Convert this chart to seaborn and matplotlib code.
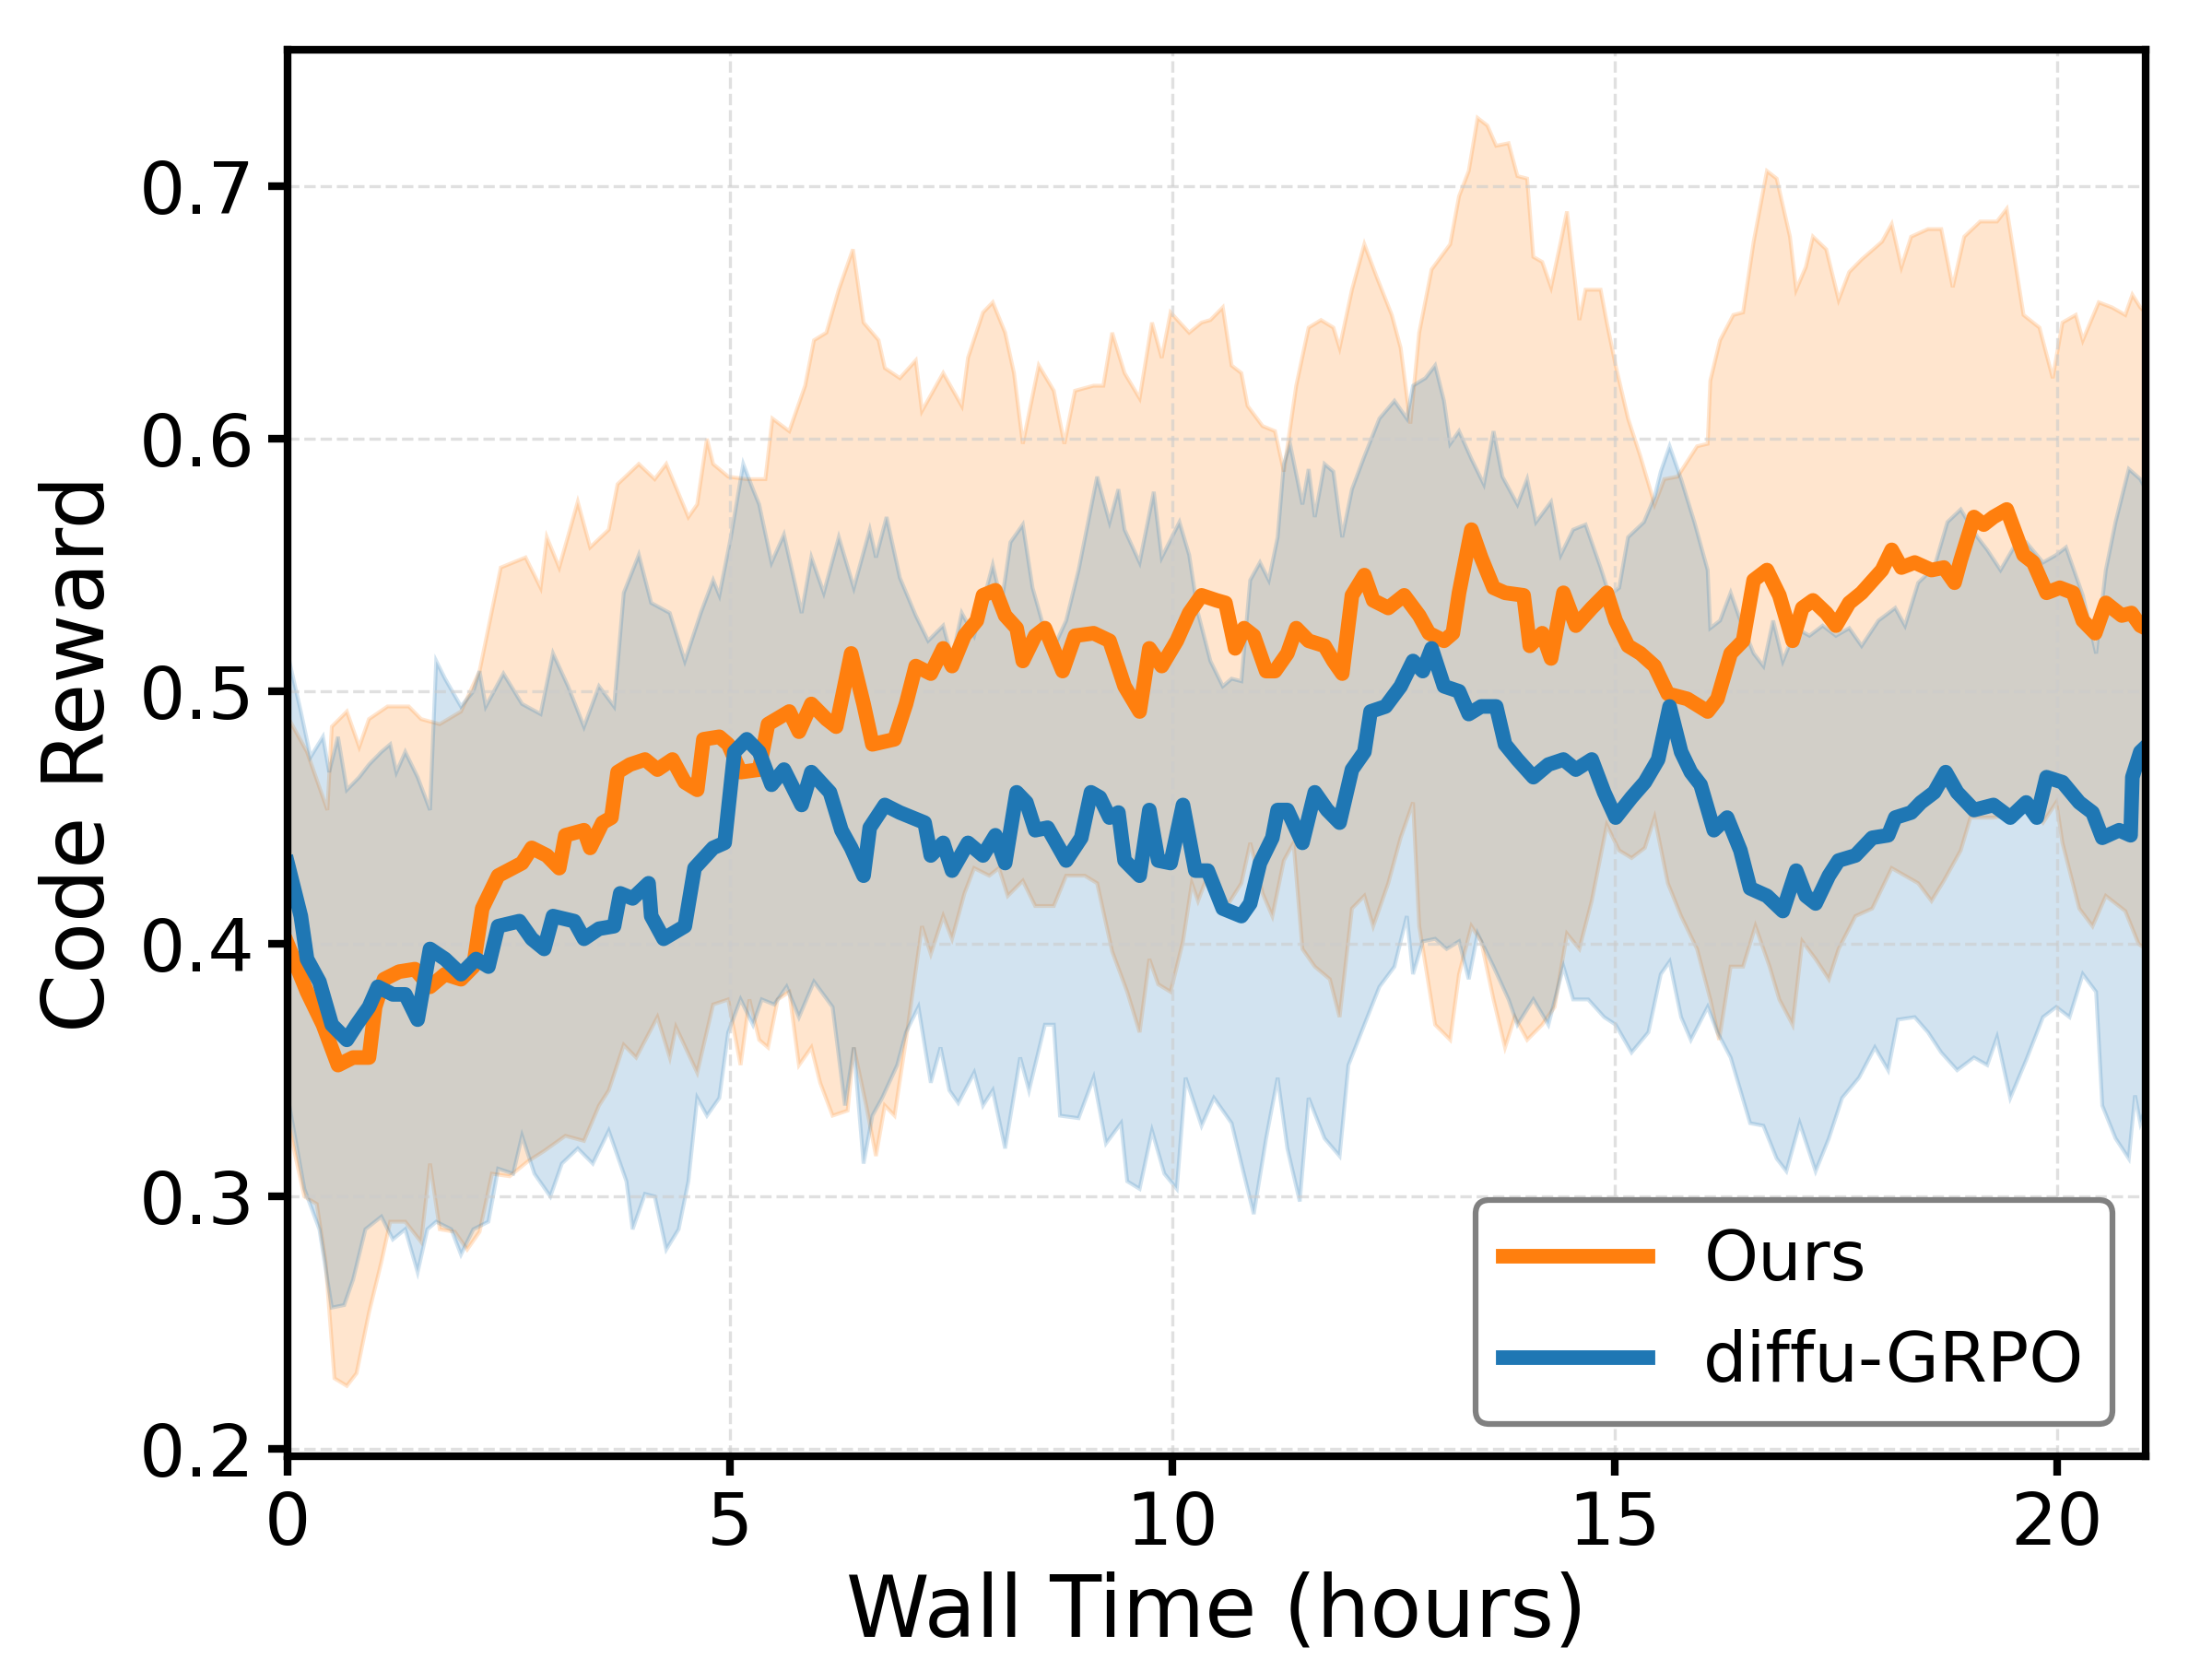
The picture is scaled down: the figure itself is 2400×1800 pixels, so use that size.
import numpy as np
import seaborn as sns
import matplotlib.pyplot as plt

# values (hours, reward)
ours_t = [0.0, 0.22, 0.40, 0.57, 0.74, 0.92, 0.99, 1.09, 1.26, 1.44, 1.61, 1.78, 1.96, 2.10, 2.20, 2.38, 2.65, 2.76, 2.93, 3.07, 3.14, 3.35, 3.42, 3.56, 3.66, 3.73, 3.87, 4.04, 4.18, 4.35, 4.49, 4.63, 4.70, 4.88, 4.98,
          5.12, 5.33, 5.43, 5.67, 5.78, 5.92, 6.09, 6.20, 6.37, 6.51, 6.61, 6.86, 6.99, 7.10, 7.27, 7.41, 7.51, 7.65, 7.79, 7.86, 8.00, 8.11, 8.24, 8.31, 8.45, 8.56, 8.76, 8.90, 9.11, 9.29, 9.46, 9.63, 9.74, 9.88, 10.05, 10.19,
          10.33, 10.50, 10.60, 10.71, 10.81, 10.92, 11.06, 11.16, 11.30, 11.40, 11.54, 11.72, 11.82, 11.92, 12.03, 12.17, 12.27, 12.44, 12.62, 12.79, 12.90, 13.07, 13.17, 13.24, 13.38, 13.49, 13.63, 13.76, 13.97, 14.04, 14.18, 14.28, 14.42, 14.56, 14.74, 14.91, 15.01, 15.15, 15.29,
          15.45, 15.60, 15.82, 16.05, 16.16, 16.31, 16.45, 16.57, 16.72, 16.86, 17.01, 17.12, 17.24, 17.39, 17.50, 17.65, 17.79, 18.02, 18.13, 18.24, 18.39, 18.58, 18.72, 18.84, 18.91, 19.06, 19.17, 19.28, 19.43, 19.62, 19.73, 19.88, 20.03, 20.18, 20.29, 20.43, 20.55, 20.73, 20.84, 20.94, 21.0]
ours_mean = [0.400, 0.381, 0.368, 0.352, 0.355, 0.355, 0.375, 0.386, 0.389, 0.390, 0.383, 0.388, 0.386, 0.391, 0.414, 0.427, 0.432, 0.438, 0.435, 0.430, 0.443, 0.445, 0.438, 0.448, 0.450, 0.468, 0.471, 0.473, 0.469, 0.473, 0.464, 0.461, 0.481, 0.482, 0.479,
             0.468, 0.469, 0.487, 0.492, 0.484, 0.495, 0.489, 0.486, 0.515, 0.495, 0.479, 0.481, 0.495, 0.510, 0.507, 0.517, 0.510, 0.522, 0.528, 0.538, 0.540, 0.530, 0.525, 0.512, 0.522, 0.525, 0.508, 0.522, 0.523, 0.520, 0.502, 0.492, 0.517, 0.510, 0.520, 0.531,
             0.538, 0.536, 0.535, 0.517, 0.525, 0.522, 0.508, 0.508, 0.515, 0.525, 0.520, 0.518, 0.512, 0.507, 0.538, 0.546, 0.536, 0.533, 0.538, 0.530, 0.523, 0.520, 0.523, 0.539, 0.564, 0.553, 0.541, 0.539, 0.538, 0.518, 0.523, 0.513, 0.539, 0.526, 0.533, 0.539, 0.528, 0.518, 0.515,
             0.510, 0.499, 0.497, 0.492, 0.497, 0.515, 0.520, 0.544, 0.548, 0.538, 0.520, 0.533, 0.536, 0.531, 0.526, 0.535, 0.539, 0.548, 0.556, 0.549, 0.551, 0.548, 0.549, 0.543, 0.552, 0.569, 0.566, 0.569, 0.572, 0.554, 0.551, 0.539, 0.541, 0.539, 0.528, 0.523, 0.535, 0.530, 0.531, 0.526, 0.525]

ours_up_t = [0.0, 0.22, 0.45, 0.50, 0.67, 0.81, 0.92, 1.13, 1.37, 1.51, 1.72, 1.96, 2.17, 2.41, 2.69, 2.86, 2.93, 3.07, 3.28, 3.42, 3.63, 3.73, 3.97, 4.15, 4.28, 4.53, 4.63, 4.74, 4.81, 4.98,
             5.19, 5.40, 5.48, 5.67, 5.85, 5.95, 6.09, 6.23, 6.39, 6.51, 6.68, 6.75, 6.92, 7.10, 7.17, 7.41, 7.62, 7.69, 7.86, 7.97, 8.11, 8.21, 8.31, 8.49, 8.66, 8.78, 8.90, 9.11, 9.22, 9.32, 9.46, 9.63, 9.77, 9.88, 9.98, 10.19,
             10.33, 10.43, 10.57, 10.67, 10.78, 10.85, 11.02, 11.16, 11.26, 11.40, 11.54, 11.68, 11.82, 11.89, 12.03, 12.17, 12.31, 12.48, 12.58, 12.69, 12.79, 12.93, 13.14, 13.24, 13.35, 13.45, 13.56, 13.66, 13.80, 13.90, 14.01, 14.08, 14.18, 14.28, 14.39, 14.46, 14.60, 14.67, 14.84, 14.91, 15.01, 15.15, 15.29,
             15.45, 15.56, 15.71, 15.93, 16.05, 16.08, 16.19, 16.34, 16.45, 16.57, 16.72, 16.83, 16.98, 17.05, 17.16, 17.24, 17.39, 17.53, 17.65, 17.79, 18.02, 18.13, 18.24, 18.35, 18.54, 18.69, 18.82, 18.95, 19.13, 19.32, 19.43, 19.62, 19.80, 19.95, 20.06, 20.21, 20.29, 20.47, 20.62, 20.77, 20.85, 20.94, 21.0]
ours_up = [0.490, 0.476, 0.453, 0.486, 0.492, 0.478, 0.489, 0.494, 0.494, 0.489, 0.487, 0.492, 0.508, 0.549, 0.553, 0.541, 0.561, 0.549, 0.575, 0.557, 0.564, 0.582, 0.590, 0.584, 0.590, 0.569, 0.574, 0.600, 0.590, 0.585,
           0.584, 0.584, 0.608, 0.603, 0.621, 0.639, 0.642, 0.659, 0.675, 0.646, 0.639, 0.628, 0.624, 0.631, 0.611, 0.626, 0.613, 0.632, 0.650, 0.654, 0.642, 0.626, 0.598, 0.629, 0.619, 0.598, 0.619, 0.621, 0.621, 0.642, 0.626, 0.616, 0.646, 0.632, 0.650, 0.642,
           0.646, 0.647, 0.652, 0.629, 0.626, 0.613, 0.605, 0.603, 0.587, 0.621, 0.644, 0.647, 0.644, 0.636, 0.659, 0.677, 0.664, 0.649, 0.636, 0.606, 0.642, 0.667, 0.677, 0.696, 0.706, 0.727, 0.724, 0.716, 0.717, 0.704, 0.703, 0.672, 0.670, 0.660, 0.678, 0.690, 0.647, 0.659, 0.659, 0.646, 0.629, 0.608, 0.593,
           0.574, 0.584, 0.585, 0.597, 0.598, 0.623, 0.639, 0.649, 0.650, 0.678, 0.706, 0.703, 0.680, 0.659, 0.668, 0.680, 0.675, 0.655, 0.666, 0.671, 0.678, 0.685, 0.668, 0.680, 0.683, 0.683, 0.660, 0.680, 0.686, 0.686, 0.691, 0.649, 0.644, 0.624, 0.646, 0.649, 0.639, 0.654, 0.652, 0.649, 0.657, 0.652, 0.650]

ours_lo_t = [0.0, 0.19, 0.33, 0.43, 0.53, 0.67, 0.78, 0.92, 1.06, 1.16, 1.33, 1.51, 1.61, 1.72, 1.89, 2.03, 2.17, 2.31, 2.51, 2.72, 2.90, 3.14, 3.35, 3.52, 3.63, 3.80, 3.94, 4.18, 4.32, 4.39, 4.63, 4.81, 4.98,
             5.12, 5.22, 5.33, 5.43, 5.54, 5.67, 5.78, 5.92, 6.02, 6.16, 6.33, 6.40, 6.54, 6.65, 6.75, 6.86, 6.99, 7.17, 7.27, 7.41, 7.51, 7.65, 7.76, 7.93, 8.04, 8.14, 8.31, 8.45, 8.66, 8.80, 9.01, 9.15, 9.32, 9.49, 9.63, 9.74, 9.84, 9.98, 10.12, 10.22,
             10.29, 10.43, 10.60, 10.78, 10.88, 11.02, 11.13, 11.26, 11.37, 11.47, 11.61, 11.78, 11.89, 12.03, 12.17, 12.27, 12.44, 12.58, 12.72, 12.79, 12.97, 13.14, 13.24, 13.38, 13.49, 13.63, 13.76, 13.87, 14.01, 14.18, 14.32, 14.46, 14.60, 14.74, 14.91, 15.05, 15.19,
             15.34, 15.45, 15.60, 15.75, 15.93, 16.08, 16.18, 16.31, 16.45, 16.59, 16.75, 16.86, 17.01, 17.12, 17.27, 17.42, 17.53, 17.72, 17.91, 18.13, 18.28, 18.43, 18.58, 18.72, 18.91, 19.02, 19.28, 19.47, 19.65, 19.84, 19.99, 20.06, 20.25, 20.40, 20.55, 20.77, 20.92, 21.0]
ours_lo = [0.330, 0.300, 0.297, 0.274, 0.228, 0.225, 0.230, 0.254, 0.274, 0.290, 0.290, 0.282, 0.313, 0.287, 0.286, 0.279, 0.286, 0.309, 0.308, 0.314, 0.318, 0.324, 0.322, 0.336, 0.342, 0.360, 0.355, 0.371, 0.355, 0.367, 0.349, 0.376, 0.378,
           0.352, 0.378, 0.362, 0.359, 0.378, 0.381, 0.352, 0.359, 0.345, 0.332, 0.334, 0.359, 0.336, 0.316, 0.336, 0.332, 0.362, 0.407, 0.396, 0.411, 0.402, 0.420, 0.430, 0.427, 0.430, 0.419, 0.425, 0.415, 0.415, 0.427, 0.427, 0.424, 0.397, 0.381, 0.365, 0.394, 0.384, 0.381, 0.401, 0.424,
           0.417, 0.430, 0.414, 0.424, 0.440, 0.420, 0.411, 0.433, 0.440, 0.398, 0.391, 0.386, 0.371, 0.414, 0.419, 0.407, 0.424, 0.442, 0.456, 0.407, 0.368, 0.362, 0.388, 0.407, 0.401, 0.378, 0.359, 0.371, 0.362, 0.368, 0.375, 0.404, 0.398, 0.417, 0.447, 0.437, 0.434,
           0.438, 0.450, 0.424, 0.411, 0.398, 0.378, 0.362, 0.391, 0.391, 0.407, 0.391, 0.378, 0.368, 0.401, 0.394, 0.386, 0.398, 0.411, 0.414, 0.430, 0.427, 0.424, 0.417, 0.425, 0.437, 0.450, 0.450, 0.451, 0.456, 0.448, 0.456, 0.440, 0.414, 0.407, 0.419, 0.413, 0.400, 0.398]

grpo_t = [0.0, 0.15, 0.22, 0.36, 0.50, 0.67, 0.78, 0.92, 1.02, 1.19, 1.33, 1.47, 1.61, 1.78, 1.96, 2.13, 2.27, 2.38, 2.62, 2.76, 2.90, 3.00, 3.24, 3.35, 3.52, 3.69, 3.76, 3.90, 4.08, 4.11, 4.25, 4.49, 4.60, 4.81, 4.94,
          5.05, 5.19, 5.33, 5.47, 5.61, 5.81, 5.92, 6.13, 6.26, 6.37, 6.51, 6.58, 6.75, 6.92, 7.20, 7.27, 7.41, 7.51, 7.69, 7.86, 8.00, 8.11, 8.24, 8.35, 8.45, 8.59, 8.80, 8.97, 9.08, 9.18, 9.29, 9.39, 9.46, 9.63, 9.74, 9.84, 9.98, 10.12,
          10.26, 10.40, 10.57, 10.78, 10.88, 10.99, 11.13, 11.19, 11.30, 11.47, 11.61, 11.75, 11.89, 12.03, 12.17, 12.24, 12.41, 12.58, 12.72, 12.83, 12.93, 13.07, 13.24, 13.35, 13.49, 13.66, 13.76, 13.90, 14.08, 14.25, 14.42, 14.56, 14.74, 14.88, 15.01,
          15.19, 15.34, 15.49, 15.62, 15.75, 15.86, 15.97, 16.12, 16.27, 16.42, 16.53, 16.72, 16.90, 17.05, 17.16, 17.27, 17.42, 17.53, 17.72, 17.91, 18.09, 18.17, 18.35, 18.46, 18.61, 18.74, 18.87, 19.06, 19.28, 19.47, 19.65, 19.77, 19.88, 20.06, 20.25, 20.40, 20.51, 20.70, 20.83, 20.85, 20.94, 21.0]
grpo_mean = [0.432, 0.411, 0.394, 0.385, 0.368, 0.362, 0.368, 0.375, 0.383, 0.380, 0.380, 0.370, 0.398, 0.394, 0.388, 0.394, 0.391, 0.407, 0.409, 0.402, 0.398, 0.411, 0.409, 0.402, 0.406, 0.407, 0.420, 0.418, 0.424, 0.411, 0.402, 0.407, 0.430, 0.438, 0.440,
             0.476, 0.481, 0.476, 0.463, 0.469, 0.455, 0.468, 0.460, 0.445, 0.438, 0.427, 0.446, 0.455, 0.452, 0.448, 0.435, 0.440, 0.429, 0.440, 0.435, 0.443, 0.432, 0.460, 0.456, 0.445, 0.446, 0.433, 0.442, 0.460, 0.458, 0.450, 0.452, 0.433, 0.427, 0.453, 0.433, 0.432, 0.455,
             0.429, 0.429, 0.414, 0.411, 0.416, 0.432, 0.442, 0.453, 0.453, 0.440, 0.460, 0.453, 0.448, 0.469, 0.476, 0.492, 0.494, 0.502, 0.512, 0.508, 0.517, 0.502, 0.500, 0.491, 0.494, 0.494, 0.479, 0.473, 0.466, 0.471, 0.473, 0.469, 0.473, 0.460, 0.450,
             0.458, 0.464, 0.473, 0.494, 0.476, 0.468, 0.463, 0.445, 0.450, 0.437, 0.422, 0.419, 0.413, 0.429, 0.419, 0.416, 0.427, 0.433, 0.435, 0.442, 0.443, 0.450, 0.452, 0.456, 0.460, 0.468, 0.460, 0.453, 0.455, 0.450, 0.456, 0.450, 0.466, 0.464, 0.456, 0.452, 0.442, 0.445, 0.443, 0.466, 0.476, 0.478]

grpo_up_t = [0.0, 0.15, 0.26, 0.40, 0.47, 0.57, 0.67, 0.81, 0.92, 1.06, 1.16, 1.23, 1.33, 1.47, 1.61, 1.68, 1.78, 1.96, 2.10, 2.17, 2.24, 2.44, 2.65, 2.86, 3.00, 3.17, 3.35, 3.52, 3.69, 3.80, 3.97, 4.11, 4.32, 4.49, 4.67, 4.81, 4.88, 5.01,
             5.15, 5.26, 5.33, 5.47, 5.61, 5.81, 5.92, 6.06, 6.23, 6.40, 6.58, 6.65, 6.77, 6.92, 7.10, 7.24, 7.41, 7.51, 7.62, 7.76, 7.97, 8.07, 8.17, 8.31, 8.42, 8.63, 8.80, 8.94, 9.15, 9.29, 9.39, 9.46, 9.63, 9.79, 9.88, 10.08, 10.19,
             10.29, 10.43, 10.57, 10.67, 10.78, 10.88, 10.99, 11.09, 11.19, 11.26, 11.33, 11.47, 11.54, 11.61, 11.72, 11.82, 11.92, 12.03, 12.17, 12.34, 12.51, 12.65, 12.72, 12.86, 12.97, 13.07, 13.14, 13.24, 13.38, 13.52, 13.63, 13.73, 13.90, 14.01, 14.11, 14.28, 14.39, 14.53, 14.67, 14.84, 14.94, 15.05, 15.15, 15.33,
             15.45, 15.52, 15.62, 15.75, 15.90, 16.05, 16.08, 16.19, 16.31, 16.42, 16.57, 16.68, 16.79, 16.90, 17.05, 17.20, 17.35, 17.50, 17.65, 17.79, 17.98, 18.17, 18.28, 18.43, 18.61, 18.76, 18.91, 19.10, 19.21, 19.36, 19.51, 19.65, 19.84, 19.99, 20.10, 20.29, 20.44, 20.55, 20.66, 20.81, 20.94, 21.0]
grpo_up = [0.515, 0.492, 0.474, 0.482, 0.468, 0.482, 0.461, 0.466, 0.471, 0.476, 0.479, 0.468, 0.476, 0.466, 0.453, 0.512, 0.505, 0.494, 0.500, 0.508, 0.494, 0.507, 0.495, 0.491, 0.515, 0.502, 0.486, 0.502, 0.494, 0.539, 0.554, 0.535, 0.531, 0.512, 0.531, 0.544, 0.538, 0.561,
           0.590, 0.580, 0.574, 0.551, 0.562, 0.531, 0.553, 0.539, 0.561, 0.541, 0.564, 0.553, 0.569, 0.545, 0.530, 0.520, 0.526, 0.513, 0.531, 0.522, 0.550, 0.535, 0.559, 0.566, 0.541, 0.515, 0.528, 0.548, 0.585, 0.567, 0.580, 0.564, 0.551, 0.579, 0.553, 0.567, 0.554,
           0.531, 0.512, 0.502, 0.505, 0.504, 0.544, 0.551, 0.544, 0.561, 0.590, 0.598, 0.574, 0.588, 0.569, 0.590, 0.587, 0.561, 0.580, 0.593, 0.608, 0.615, 0.608, 0.621, 0.624, 0.629, 0.615, 0.598, 0.603, 0.592, 0.582, 0.603, 0.585, 0.574, 0.584, 0.567, 0.575, 0.554, 0.564, 0.566, 0.549, 0.538, 0.541, 0.561, 0.567,
           0.577, 0.587, 0.597, 0.584, 0.567, 0.548, 0.525, 0.528, 0.539, 0.528, 0.515, 0.510, 0.528, 0.512, 0.525, 0.522, 0.526, 0.522, 0.525, 0.518, 0.528, 0.533, 0.526, 0.543, 0.549, 0.567, 0.572, 0.561, 0.556, 0.548, 0.557, 0.559, 0.551, 0.554, 0.557, 0.538, 0.515, 0.548, 0.567, 0.588, 0.584, 0.580]

grpo_lo_t = [0.0, 0.19, 0.36, 0.50, 0.64, 0.74, 0.88, 1.06, 1.19, 1.33, 1.47, 1.58, 1.68, 1.85, 1.96, 2.10, 2.27, 2.38, 2.55, 2.65, 2.79, 2.97, 3.10, 3.28, 3.45, 3.63, 3.83, 3.90, 4.04, 4.15, 4.28, 4.42, 4.53, 4.63, 4.74, 4.88, 4.98,
             5.12, 5.26, 5.36, 5.50, 5.64, 5.78, 5.95, 6.16, 6.30, 6.40, 6.51, 6.61, 6.72, 6.89, 6.99, 7.13, 7.27, 7.38, 7.48, 7.58, 7.76, 7.86, 7.97, 8.11, 8.28, 8.38, 8.56, 8.66, 8.73, 8.94, 9.11, 9.25, 9.42, 9.49, 9.63, 9.77, 9.91, 10.05, 10.15, 10.33,
             10.47, 10.67, 10.78, 10.92, 11.06, 11.19, 11.30, 11.44, 11.54, 11.72, 11.89, 11.99, 12.17, 12.34, 12.51, 12.65, 12.72, 12.83, 12.97, 13.10, 13.24, 13.35, 13.45, 13.63, 13.80, 13.90, 14.08, 14.25, 14.42, 14.53, 14.70, 14.88, 15.01, 15.19,
             15.38, 15.52, 15.62, 15.75, 15.86, 16.05, 16.16, 16.31, 16.42, 16.53, 16.68, 16.83, 16.94, 17.09, 17.27, 17.42, 17.57, 17.76, 17.94, 18.09, 18.20, 18.39, 18.54, 18.69, 18.87, 19.06, 19.21, 19.32, 19.47, 19.65, 19.84, 19.99, 20.14, 20.29, 20.44, 20.51, 20.66, 20.81, 20.88, 20.94, 21.0]
grpo_lo = [0.340, 0.303, 0.287, 0.256, 0.257, 0.267, 0.287, 0.292, 0.283, 0.287, 0.270, 0.287, 0.290, 0.287, 0.277, 0.287, 0.290, 0.311, 0.309, 0.324, 0.309, 0.300, 0.313, 0.319, 0.313, 0.326, 0.306, 0.287, 0.301, 0.300, 0.279, 0.287, 0.306, 0.339, 0.332, 0.339, 0.365,
           0.378, 0.368, 0.378, 0.376, 0.383, 0.371, 0.385, 0.375, 0.336, 0.359, 0.313, 0.332, 0.339, 0.352, 0.365, 0.375, 0.345, 0.359, 0.342, 0.337, 0.349, 0.336, 0.342, 0.319, 0.355, 0.342, 0.368, 0.368, 0.332, 0.331, 0.347, 0.321, 0.329, 0.306, 0.303, 0.326, 0.309, 0.303, 0.347, 0.328,
           0.339, 0.329, 0.313, 0.293, 0.323, 0.347, 0.319, 0.298, 0.339, 0.323, 0.316, 0.352, 0.368, 0.383, 0.391, 0.411, 0.388, 0.401, 0.402, 0.398, 0.401, 0.386, 0.404, 0.391, 0.378, 0.368, 0.378, 0.368, 0.391, 0.378, 0.378, 0.371, 0.368, 0.357,
           0.365, 0.388, 0.393, 0.371, 0.362, 0.375, 0.365, 0.355, 0.342, 0.329, 0.328, 0.315, 0.310, 0.329, 0.310, 0.323, 0.339, 0.347, 0.359, 0.350, 0.370, 0.371, 0.365, 0.357, 0.350, 0.355, 0.352, 0.363, 0.339, 0.354, 0.371, 0.375, 0.371, 0.388, 0.381, 0.336, 0.323, 0.315, 0.340, 0.329, 0.335]

orange = "#ff7f0e"
blue = "#1f77b4"

fig, ax = plt.subplots(figsize=(8, 6), dpi=300)
fig.subplots_adjust(left=0.130, right=0.970, bottom=0.122, top=0.970)

# shaded bands: upper edge forward, lower edge back
ax.fill(np.r_[ours_up_t, ours_lo_t[::-1]], np.r_[ours_up, ours_lo[::-1]],
        color=orange, alpha=0.2, lw=1.0)
ax.fill(np.r_[grpo_up_t, grpo_lo_t[::-1]], np.r_[grpo_up, grpo_lo[::-1]],
        color=blue, alpha=0.2, lw=1.0)

sns.lineplot(x=ours_t, y=ours_mean, ax=ax, color=orange, lw=3.8, label="Ours")
sns.lineplot(x=grpo_t, y=grpo_mean, ax=ax, color=blue, lw=3.8, label="diffu-GRPO")

ax.set_xlim(0, 21)
ax.set_ylim(0.197, 0.754)
ax.set_xticks([0, 5, 10, 15, 20])
ax.set_yticks([0.2, 0.3, 0.4, 0.5, 0.6, 0.7])
ax.grid(True, ls="--", color="#cccccc", alpha=0.6, lw=0.8)
ax.tick_params(labelsize=19, width=2, length=5)
for s in ax.spines.values():
    s.set_linewidth(2)
    s.set_color("black")

ax.set_xlabel("Wall Time (hours)", fontsize=22, labelpad=3)
ax.set_ylabel("Code Reward", fontsize=22, labelpad=4.5)

leg = ax.legend(loc="lower right", fontsize=18, handlelength=2.1,
                borderpad=0.4, labelspacing=0.5, handletextpad=0.8,
                bbox_to_anchor=(0.982, 0.023), borderaxespad=0,
                fancybox=True, framealpha=1)
leg.get_frame().set_edgecolor("gray")
leg.get_frame().set_linewidth(1.5)

fig.savefig("out.png", dpi=300)
